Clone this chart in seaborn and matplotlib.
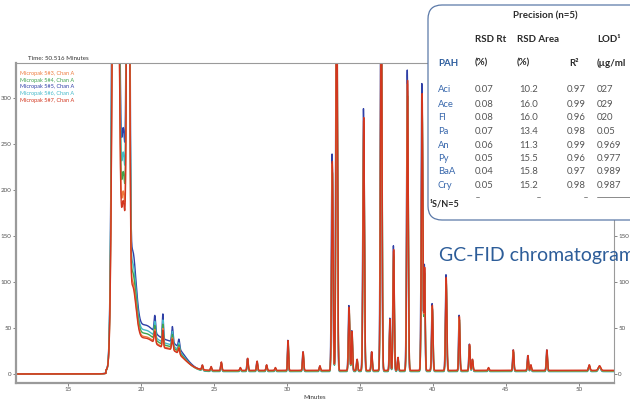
import numpy as np
import pandas as pd
import matplotlib
matplotlib.use("Agg")
import matplotlib.pyplot as plt
import seaborn as sns
from matplotlib.patches import FancyBboxPatch
from matplotlib.transforms import IdentityTransform

# ---------------- data ----------------
runs = ["Micropak 5#3, Chan A", "Micropak 5#4, Chan A", "Micropak 5#5, Chan A",
        "Micropak 5#6, Chan A", "Micropak 5#7, Chan A"]
run_colors = ["#ee7a3c", "#3ea34e", "#2f3fa6", "#44b9c9", "#d2361f"]
draw_order = [2, 3, 1, 0, 4]

# per-run variation read from the overlay
run_scale = [1.00, 0.96, 1.05, 0.98, 1.01]
run_shift = [0.000, 0.012, -0.010, 0.006, 0.010]
run_tail = [0.90, 1.00, 1.22, 1.10, 0.85]
run_base = [3.5, 3.0, 3.0, 2.5, 4.0]
solvent_front = 17.6

# solvent region (min, height, width)
solvent_times = [18.20, 18.45, 18.78, 19.12, 19.40, 20.20, 22.20, 20.95, 21.50, 22.15, 22.60]
solvent_heights = [800, 300, 200, 900, 80, 40, 22, 15, 22, 14, 8]
solvent_widths = [0.15, 0.10, 0.18, 0.08, 0.25, 0.90, 0.80, 0.05, 0.04, 0.05, 0.05]

# analyte peaks (min, height, width)
peak_times = [24.2, 24.8, 25.5, 26.8, 27.3, 27.95, 28.6, 29.2, 30.07, 31.1, 32.25,
              33.1, 33.4, 34.25, 34.45, 34.8, 35.25, 35.8, 36.45, 37.05, 37.3, 37.6,
              38.25, 39.25, 39.42, 39.95, 40.9, 41.8, 42.5, 42.7, 43.8, 45.5, 46.5,
              46.7, 47.8, 50.7, 51.4]
peak_heights = [5, 4, 9, 3, 13, 10, 6, 3, 32, 20, 5,
                225, 460, 68, 42, 12, 272, 20, 430, 55, 130, 14,
                312, 298, 110, 70, 100, 58, 28, 12, 3, 22, 16,
                6, 22, 6, 5]
peak_widths = [0.04, 0.04, 0.04, 0.04, 0.04, 0.04, 0.04, 0.04, 0.035, 0.04, 0.04,
               0.05, 0.05, 0.045, 0.04, 0.04, 0.05, 0.04, 0.05, 0.04, 0.045, 0.04,
               0.05, 0.05, 0.04, 0.045, 0.045, 0.04, 0.04, 0.04, 0.04, 0.04, 0.04,
               0.04, 0.04, 0.05, 0.08]

# table
pah = ["Aci", "Ace", "Fl", "Pa", "An", "Py", "BaA", "Cry"]
rsd_rt = ["0.07", "0.08", "0.08", "0.07", "0.06", "0.05", "0.04", "0.05"]
rsd_area = ["10.2", "16.0", "16.0", "13.4", "11.3", "15.5", "15.8", "15.2"]
r2 = ["0.97", "0.99", "0.96", "0.98", "0.99", "0.96", "0.97", "0.98"]
lod = ["027", "029", "020", "0.05", "0.969", "0.977", "0.989", "0.987"]

# ---------------- build traces ----------------
t = np.arange(11.44, 52.4, 0.006)
frames = []
for i, run in enumerate(runs):
    y = np.where(t > solvent_front, run_base[i], 0.0)
    for c, h, w in zip(solvent_times, solvent_heights, solvent_widths):
        y = y + run_tail[i] * h * np.exp(-0.5 * ((t - c) / w) ** 2)
    for c, h, w in zip(peak_times, peak_heights, peak_widths):
        y = y + run_scale[i] * h * np.exp(-0.5 * ((t - c - run_shift[i]) / w) ** 2)
    frames.append(pd.DataFrame({"Minutes": t, "Signal": y, "Run": run}))
df = pd.concat(frames, ignore_index=True)

# ---------------- figure ----------------
sns.set_theme(style="white")
plt.rcParams["font.family"] = ["Lato", "DejaVu Sans"]

W, H = 630, 405
fig = plt.figure(figsize=(W / 100, H / 100), dpi=100)
ax = fig.add_axes([16 / W, 22 / H, 598 / W, 320 / H])

order = [runs[k] for k in draw_order]
pal = {runs[k]: run_colors[k] for k in range(len(runs))}
sns.lineplot(data=df, x="Minutes", y="Signal", hue="Run", hue_order=order,
             palette=pal, linewidth=1.0, legend=False, estimator=None,
             sort=False, ax=ax)

ax.set_xlim(11.44, 52.4)
ax.set_ylim(-9.8, 338)
ax.set_xticks(range(15, 55, 5))
ax.set_yticks(range(0, 301, 50))
ax.tick_params(labelsize=4.5, length=2, width=0.5, colors="#555555", pad=1,
               right=True, labelright=True, left=True, bottom=True)
for tk, val in zip(ax.yaxis.get_major_ticks(), range(0, 301, 50)):
    if val >= 200:
        tk.label2.set_visible(False)
ax.set_xlabel("Minutes", fontsize=4.5, labelpad=2, color="#333333")
ax.set_ylabel("")
for side, sp in ax.spines.items():
    sp.set_color("#9a9a9a")
    sp.set_linewidth(1.6 if side in ("left", "bottom") else 0.8)

ax.set_title("Time: 50.516 Minutes", fontsize=4.5, loc="left", x=0.02, pad=2,
             color="#333333")

for i, run in enumerate(runs):
    ax.text(0.006, 0.975 - i * 0.021, run, transform=ax.transAxes, fontsize=4,
            color=run_colors[i], va="top", ha="left")

# ---------------- overlay table ----------------
def fx(x):
    return x / W


def fy(y):
    return 1 - y / H


box = FancyBboxPatch((428, H - 220), 240, 215, transform=IdentityTransform(),
                     boxstyle="round,pad=0,rounding_size=14", facecolor="white",
                     edgecolor="#5b79a8", linewidth=0.9, zorder=5)
fig.add_artist(box)

hdr = dict(fontsize=7, fontweight="bold", color="#2b2b2b", va="center", ha="left", zorder=6)
fig.text(fx(513), fy(16), "Precision (n=5)", **hdr)
fig.text(fx(475), fy(40), "RSD Rt", **hdr)
fig.text(fx(517), fy(40), "RSD Area", **hdr)
fig.text(fx(597), fy(40), "LOD¹", **hdr)
fig.text(fx(438), fy(63), "PAH", **{**hdr, "color": "#2f5f9e"})
fig.text(fx(475), fy(63), "(%)", **hdr)
fig.text(fx(517), fy(63), "(%)", **hdr)
fig.text(fx(569), fy(63), "R²", **hdr)
fig.text(fx(597), fy(63), "(µg/ml", **hdr)

cell = dict(fontsize=6.8, color="#555555", va="center", ha="left", zorder=6)
row_y = [90, 104, 117.5, 131, 145, 158.5, 172, 186]
for k, yy in enumerate(row_y):
    fig.text(fx(438), fy(yy), pah[k], **{**cell, "color": "#3a69ad"})
    fig.text(fx(475), fy(yy), rsd_rt[k], **cell)
    fig.text(fx(519), fy(yy), rsd_area[k], **cell)
    fig.text(fx(567), fy(yy), r2[k], **cell)
    fig.text(fx(597), fy(yy), lod[k], **cell)

for xx in (476, 537, 584):
    fig.add_artist(plt.Line2D([fx(xx), fx(xx + 3)], [fy(197), fy(197)],
                              color="#777777", linewidth=0.6, zorder=6))
fig.add_artist(plt.Line2D([fx(597), fx(630)], [fy(197), fy(197)],
                          color="#777777", linewidth=0.6, zorder=6))

fig.text(fx(430), fy(204), "¹S/N=5", fontsize=6.5, fontweight="bold",
         color="#2b2b2b", va="center", ha="left", zorder=6)

fig.text(fx(439), fy(256), "GC-FID chromatogram", fontsize=14,
         color="#2d5d99", va="center", ha="left", zorder=6)

fig.savefig("out.png", dpi=100)
